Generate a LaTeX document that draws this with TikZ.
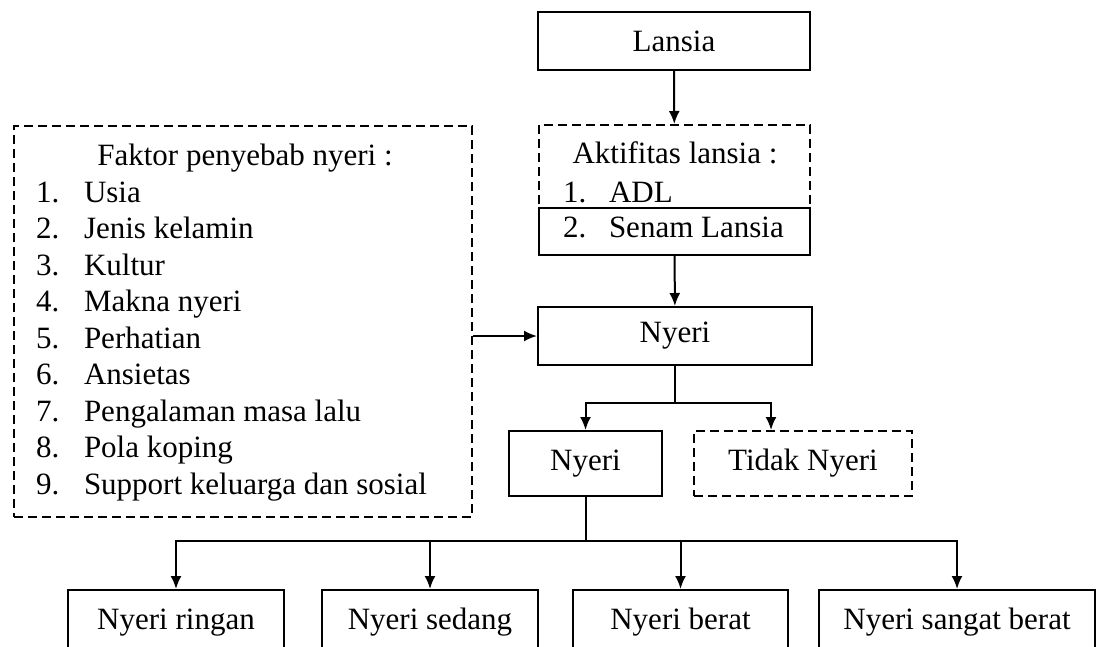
\documentclass[tikz,border=0pt]{standalone}
\usepackage{fontspec}
\setmainfont{Liberation Serif}
\usetikzlibrary{arrows.meta}

\begin{document}
\begin{tikzpicture}[x=0.5pt, y=-0.5pt, >={Latex[length=6.5pt,width=5.5pt]}, line width=1pt,   % one unit = one pixel of the layout
        font=\fontsize{15.5}{18}\selectfont,
        box/.style = {draw, rectangle, inner sep=0pt},                                        % plain boxes
        dbox/.style = {box, dash pattern=on 4.5pt off 2.5pt},                                 % dashed boxes
        txt/.style = {inner sep=0pt, anchor=base west}]                                       % list lines
    \clip (0,0) rectangle (1097,647);
    %top column
    \node[box, minimum width=136pt, minimum height=29pt] (lansia) at (674,41) {Lansia};
    \node[dbox, minimum width=135.5pt, minimum height=65pt] (aktif) at (674.5,190) {};
    \node[box, fill=white, minimum width=135.5pt, minimum height=23.5pt] (senam) at (674.5,231.5) {};
    \node[anchor=base, inner sep=0pt] (aktiftitle) at (675,163) {Aktifitas lansia :};
    \node[txt] (adlnum) at (562,202) {1.};
    \node[txt] (adl) at (608,202) {ADL};
    \node[txt] (senamnum) at (562,237) {2.};
    \node[txt] (senamtext) at (608,237) {Senam Lansia};
    \node[box, minimum width=137pt, minimum height=29pt] (nyeri) at (675,336) {Nyeri};
    %factors
    \node[dbox, minimum width=229pt, minimum height=195.5pt] (faktor) at (243,321.5) {};
    \node[anchor=base, inner sep=0pt] (faktortitle) at (245,165) {Faktor penyebab nyeri :};
    \foreach \t [count=\i] in {Usia, Jenis kelamin, Kultur, Makna nyeri, Perhatian, Ansietas,
                               Pengalaman masa lalu, Pola koping, Support keluarga dan sosial} {
        \node[txt] (fnum\i) at (35,165.5+36.5*\i) {\i.};
        \node[txt] (ftext\i) at (83,165.5+36.5*\i) {\t};
    }
    %second level
    \node[box, minimum width=76.5pt, minimum height=32.5pt] (ada) at (585.5,463.5) {Nyeri};
    \node[dbox, minimum width=109pt, minimum height=32.5pt] (tidak) at (803,463.5) {Tidak Nyeri};
    %degrees
    \node[box, minimum width=108pt, minimum height=32.5pt] (ringan) at (176,622.5) {Nyeri ringan};
    \node[box, minimum width=108pt, minimum height=32.5pt] (sedang) at (430,622.5) {Nyeri sedang};
    \node[box, minimum width=107.5pt, minimum height=32.5pt] (berat) at (680.5,622.5) {Nyeri berat};
    \node[box, minimum width=138pt, minimum height=32.5pt] (sangat) at (957,622.5) {Nyeri sangat berat};
    \coordinate (fork1) at (nyeri.south |- 0,403);
    \coordinate (fork2) at (ada.south |- 0,541);
    %edges
    \draw[->] (lansia) -- (aktif);
    \draw[->] (senam) -- (nyeri);
    \draw[->] (faktor.east |- nyeri.west) -- (nyeri.west);
    \draw (nyeri.south) -- (fork1);
    \draw[->] (fork1) -| (ada.north);
    \draw[->] (fork1) -| ([xshift=-16pt]tidak.north);
    \draw (ada.south) -- (fork2);
    \draw[->] (fork2) -| (ringan.north);
    \draw[->] (fork2) -| (sedang.north);
    \draw[->] (fork2) -| (berat.north);
    \draw[->] (fork2) -| (sangat.north);
\end{tikzpicture}
\end{document}
